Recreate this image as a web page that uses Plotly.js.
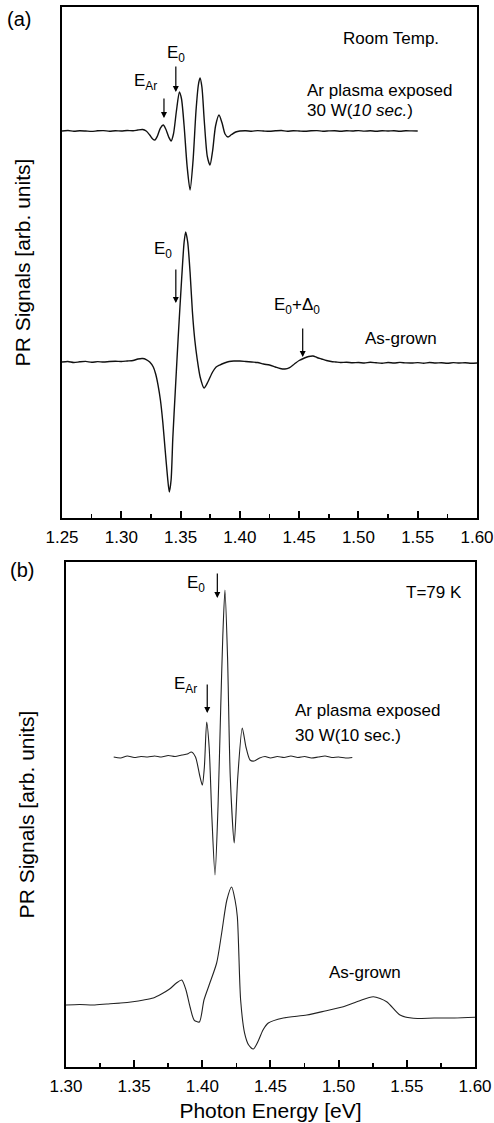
<!DOCTYPE html>
<html><head><meta charset="utf-8">
<script src="https://cdn.plot.ly/plotly-3.0.1.min.js"></script>
<style>html,body{margin:0;padding:0;background:#fff}#chart{width:494px;height:1123px}</style>
</head><body><div id="chart"></div>
<script>
// ---- Panel (a): Room temperature ----
const aArE = [1.250,1.255,1.260,1.265,1.270,1.275,1.280,1.285,1.290,1.295,
  1.300,1.305,1.310,1.314,1.318,1.321,1.324,1.3265,1.3284,1.3305,
  1.3330,1.3354,1.3375,1.3400,1.3420,1.3440,1.3465,1.3490,1.3508,1.3530,
  1.3555,1.3580,1.3605,1.3630,1.3650,1.3664,1.3680,1.3700,1.3725,1.3748,
  1.3770,1.3795,1.3824,1.3850,1.3875,1.3900,1.3930,1.3965,1.400,1.405,
  1.410,1.415,1.420,1.425,1.430,1.435,1.440,1.445,1.450,1.455,
  1.460,1.465,1.470,1.475,1.480,1.485,1.490,1.495,1.500,1.505,
  1.510,1.515,1.520,1.525,1.530,1.535,1.540,1.545,1.550];
const aArPR = [0,0.05,-0.02,0.03,0,-0.04,0.02,0.04,-0.02,0.03,
  0,0.05,0.02,0.1,0.15,0,-0.4,-0.8,-0.9,-0.5,
  0.3,0.6,0.2,-0.6,-1.0,-0.3,2.0,3.9,3.2,0.5,
  -3.5,-5.9,-3.0,2.0,4.6,5.3,4.4,1.0,-2.5,-3.4,
  -2.0,0.5,1.6,0.8,-0.3,-0.6,-0.35,-0.1,0,0.03,
  -0.02,0.04,0,-0.03,0.02,0.05,-0.02,0.03,0,-0.03,
  0.02,0.04,-0.02,0.01,0.03,-0.02,0.02,0,0.04,-0.01,
  0.02,-0.03,0.03,0,0.02,-0.02,0.03,0.01,0];
const aAgE = [1.250,1.255,1.260,1.265,1.270,1.275,1.280,1.285,1.290,1.295,
  1.300,1.305,1.310,1.314,1.318,1.321,1.324,1.327,1.329,1.331,
  1.333,1.335,1.337,1.3390,1.3405,1.342,1.3435,1.3455,1.348,1.351,
  1.3530,1.3543,1.356,1.358,1.360,1.362,1.364,1.3665,1.3698,1.373,
  1.377,1.380,1.383,1.387,1.391,1.395,1.400,1.405,1.410,1.415,
  1.420,1.425,1.430,1.434,1.438,1.442,1.446,1.450,1.4545,1.458,
  1.4617,1.465,1.469,1.473,1.477,1.481,1.485,1.490,1.495,1.500,
  1.505,1.510,1.515,1.520,1.525,1.530,1.535,1.540,1.545,1.550,
  1.555,1.560,1.565,1.570,1.575,1.580,1.585,1.590,1.595,1.600];
const aAgPR = [0,0.05,-0.05,0.02,0.06,-0.03,0.04,0.0,0.05,0.08,
  0.05,0.1,0.15,0.3,0.35,0.25,0.0,-0.5,-1.2,-2.3,
  -3.8,-6.0,-8.8,-11.5,-13.0,-11.8,-7.5,-3.0,2.5,8.5,
  12.0,13.0,12.0,9.0,5.0,2.2,0.3,-1.5,-2.6,-2.0,
  -1.0,-0.5,-0.3,-0.1,0.05,0.1,0.1,0.05,0.0,-0.05,
  -0.2,-0.3,-0.5,-0.65,-0.7,-0.55,-0.2,0.15,0.4,0.55,
  0.6,0.45,0.3,0.15,0.05,0.0,-0.05,-0.02,-0.08,-0.05,
  -0.1,-0.03,-0.08,-0.12,-0.05,-0.1,-0.04,-0.09,-0.1,-0.06,
  -0.12,-0.05,-0.1,-0.08,-0.13,-0.06,-0.1,-0.07,-0.12,-0.1];

// ---- Panel (b): T = 79 K ----
const bArE = [1.335,1.340,1.345,1.350,1.355,1.360,1.365,1.370,1.375,1.380,
  1.385,1.389,1.392,1.395,1.398,1.400,1.4015,1.4032,1.405,1.407,
  1.4093,1.4115,1.4135,1.4150,1.4166,1.4185,1.4205,1.4234,1.426,1.4293,
  1.432,1.435,1.438,1.442,1.446,1.450,1.455,1.460,1.465,1.470,
  1.475,1.480,1.485,1.490,1.495,1.500,1.505,1.510];
const bArPR = [0,-0.1,0.1,-0.05,0.05,0,0.1,0,0.15,0.05,
  0.2,0.3,0.5,0,-1.8,-2.8,-1.0,3.5,1.0,-6.0,
  -11.8,-5.0,5.0,12.0,16.7,10.0,-2.0,-8.6,-2.0,2.9,
  1.0,-0.3,-0.4,-0.1,0.05,-0.1,0.05,-0.05,0.1,-0.05,
  0.05,-0.1,0,0.1,-0.05,0,-0.1,-0.05];
const bAgE = [1.300,1.310,1.320,1.330,1.340,1.349,1.357,1.364,1.370,1.376,
  1.381,1.3849,1.388,1.391,1.394,1.3978,1.4012,1.405,1.4105,1.4142,
  1.418,1.4215,1.424,1.4257,1.4281,1.431,1.434,1.4374,1.441,1.4445,
  1.4484,1.4594,1.4766,1.490,1.5034,1.515,1.5254,1.5352,1.545,1.5548,
  1.570,1.585,1.600];
const bAgPR = [0,0.05,0.0,0.1,0.2,0.33,0.5,0.7,1.1,1.6,
  2.2,2.5,1.5,-0.2,-1.5,-1.7,0.5,2.0,4.2,7.2,
  10.5,11.8,10.5,8.8,0.5,-2.8,-4.0,-4.4,-3.6,-2.5,
  -1.8,-1.3,-1.0,-0.6,-0.17,0.4,0.83,0.33,-1.0,-1.33,
  -1.3,-1.3,-1.23];

// vertical stacking offsets (arb. units)
const offsetA = {ar: 38.7, ag: 15.6};
const offsetB = {ar: 31.0, ag: 6.2};

// tick settings (eV)
const xTickStart = 1.25;
const xTickStep = 0.05;
const xMinorStep = 0.025;

const FONT = 'Liberation Sans, Arial, Helvetica, sans-serif';
const shift = (arr, o) => arr.map(v => v + o);
const lineStyle = {color: '#111', width: 1.4, shape: 'spline', smoothing: 0.7};
const lineStyleB = {color: '#222', width: 1.1, shape: 'spline', smoothing: 0.7};

const traces = [
  {x: aArE, y: shift(aArPR, offsetA.ar), xaxis: 'x', yaxis: 'y', mode: 'lines', line: lineStyle},
  {x: aAgE, y: shift(aAgPR, offsetA.ag), xaxis: 'x', yaxis: 'y', mode: 'lines', line: lineStyle},
  {x: bArE, y: shift(bArPR, offsetB.ar), xaxis: 'x2', yaxis: 'y2', mode: 'lines', line: lineStyleB},
  {x: bAgE, y: shift(bAgPR, offsetB.ag), xaxis: 'x2', yaxis: 'y2', mode: 'lines', line: lineStyleB}
];

const xax = (range, domain) => ({
  range: range, domain: domain, tickmode: 'linear', tick0: xTickStart, dtick: xTickStep, tickformat: '.2f',
  ticks: 'inside', ticklen: 7, tickwidth: 2, tickcolor: '#000', layer: 'above traces',
  minor: {ticks: 'inside', ticklen: 4, tickwidth: 1.5, dtick: xMinorStep, tick0: xTickStart, tickcolor: '#000', showgrid: false},
  showline: true, linewidth: 2, linecolor: '#000', mirror: true,
  showgrid: false, zeroline: false, ticklabelstandoff: 3,
  tickfont: {family: FONT, size: 17, color: '#000'}, fixedrange: true
});
const yax = (range, domain) => ({
  range: range, domain: domain, showticklabels: false, ticks: '',
  showline: true, linewidth: 2, linecolor: '#000', mirror: true,
  showgrid: false, zeroline: false, fixedrange: true,
  title: {text: 'PR Signals [arb. units]', font: {family: FONT, size: 21, color: '#000'}, standoff: 24}
});

const txt = (x, y, xr, yr, text, anchor) => ({
  x: x, y: y, xref: xr, yref: yr, text: text, showarrow: false,
  xanchor: anchor || 'center', yanchor: 'middle',
  font: {family: FONT, size: 17, color: '#000'}
});
const arrow = (x, y, xr, yr, len) => ({
  x: x, y: y, xref: xr, yref: yr, text: '', showarrow: true,
  ax: 0, ay: -len, arrowhead: 2, arrowsize: 1, arrowwidth: 1.2, arrowcolor: '#000', standoff: 0
});

const layout = {
  width: 494, height: 1123,
  margin: {l: 62, r: 17, t: 7, b: 56},
  showlegend: false,
  xaxis: Object.assign(xax([1.25, 1.60], [0, 1]), {anchor: 'y'}),
  yaxis: Object.assign(yax([0, 51.1], [0.5179, 1]), {anchor: 'x'}),
  xaxis2: Object.assign(xax([1.30, 1.60], [0.0096, 0.9952]), {anchor: 'y2',
    title: {text: 'Photon Energy [eV]', font: {family: FONT, size: 21, color: '#000'}, standoff: 8}}),
  yaxis2: Object.assign(yax([0, 50.5], [0, 0.4764]), {anchor: 'x2'}),
  annotations: [
    // panel labels
    {x: -0.104, y: 0.989, xref: 'paper', yref: 'paper', text: '(a)', showarrow: false,
     xanchor: 'center', yanchor: 'middle', font: {family: FONT, size: 20, color: '#000'}},
    {x: -0.096, y: 0.469, xref: 'paper', yref: 'paper', text: '(b)', showarrow: false,
     xanchor: 'center', yanchor: 'middle', font: {family: FONT, size: 20, color: '#000'}},
    // panel (a)
    txt(1.5275, 48.0, 'x', 'y', 'Room Temp.'),
    txt(1.455, 42.8, 'x', 'y', 'Ar plasma exposed', 'left'),
    txt(1.455, 40.8, 'x', 'y', '30 W(<i>10 sec.</i>)', 'left'),
    txt(1.320, 43.6, 'x', 'y', 'E<sub>Ar</sub>'),
    arrow(1.336, 40.0, 'x', 'y', 21),
    {x: 1.346, y: 42.6, xref: 'x', yref: 'y', text: 'E<sub>0</sub>', showarrow: true,
     ax: 0, ay: -38, arrowhead: 2, arrowsize: 1, arrowwidth: 1.2, arrowcolor: '#000', standoff: 0,
     font: {family: FONT, size: 17, color: '#000'}},
    txt(1.335, 26.8, 'x', 'y', 'E<sub>0</sub>'),
    arrow(1.346, 21.5, 'x', 'y', 35),
    txt(1.448, 21.2, 'x', 'y', 'E<sub>0</sub>+\u0394<sub>0</sub>'),
    arrow(1.453, 16.1, 'x', 'y', 30),
    txt(1.5363, 18.0, 'x', 'y', 'As-grown'),
    // panel (b)
    txt(1.570, 47.5, 'x2', 'y2', 'T=79 K'),
    txt(1.3954, 48.3, 'x2', 'y2', 'E<sub>0</sub>'),
    arrow(1.411, 46.9, 'x2', 'y2', 26),
    txt(1.388, 38.2, 'x2', 'y2', 'E<sub>Ar</sub>'),
    arrow(1.4036, 35.4, 'x2', 'y2', 30),
    txt(1.4665, 35.7, 'x2', 'y2', 'Ar plasma exposed', 'left'),
    txt(1.4665, 33.2, 'x2', 'y2', '30 W(10 sec.)', 'left'),
    txt(1.5193, 9.5, 'x2', 'y2', 'As-grown')
  ]
};

Plotly.newPlot('chart', traces, layout, {staticPlot: true, displayModeBar: false});
</script></body></html>
